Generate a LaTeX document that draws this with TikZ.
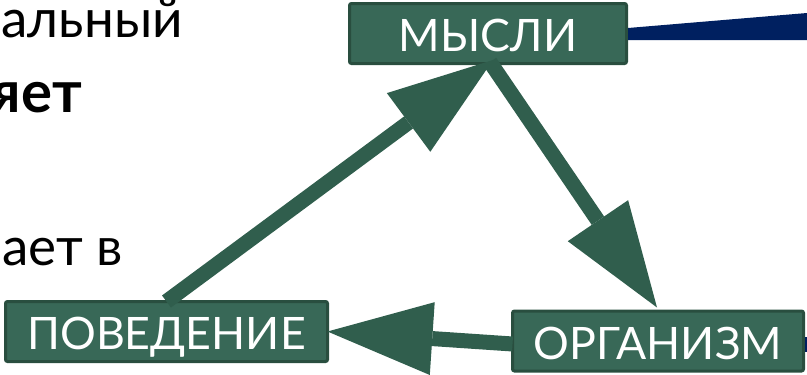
\documentclass[tikz,border=0pt]{standalone}
\usepackage{fontspec}
\setmainfont{Lato}
\usetikzlibrary{arrows.meta,calc}
\definecolor{boxfill}{RGB}{56,104,87}
\definecolor{boxline}{RGB}{41,78,63}
\definecolor{arrowgreen}{RGB}{48,94,77}
\definecolor{navyblue}{RGB}{0,32,96}
\begin{document}
\begin{tikzpicture}[x=1pt,y=-1pt,
  box/.style={draw=boxline, line width=3pt, fill=boxfill, rounded corners=2pt,
    text=white, font=\fontsize{44.7}{50}\selectfont, inner sep=0pt, outer sep=0pt,
    minimum height=60pt, text height=36pt, text depth=0pt},
  flow/.style={draw=arrowgreen, line width=15pt,
    -{Triangle[length=105pt,width=73pt,line width=0pt]}},
  slidetext/.style={anchor=base east, inner sep=0pt, font=\fontsize{53}{60}\selectfont}]
\useasboundingbox (0,0) rectangle (807,375);
\clip (0,0) rectangle (807,375);
% slide text fragments
\node[slidetext] (t1) at (183,37) {альный};
\node[slidetext, font=\fontsize{58}{64}\selectfont\bfseries] (t2) at (82,112) {яет};
\node[slidetext] (t3) at (123,265) {ает в};
% boxes
\node[box, minimum width=277pt] (mysl) at (488,33.5) {МЫСЛИ};
\node[box, minimum width=322pt] (pov) at (166.5,331.5) {ПОВЕДЕНИЕ};
\node[box, minimum width=291pt] (org) at (658,341) {ОРГАНИЗМ};
% navy connectors to the right
\fill[navyblue] ($(mysl.east)+(1.5,-5.5)$) -- (807,13) -- (807,40) -- ($(mysl.east)+(1.5,6.5)$) -- cycle;
\fill[navyblue] ($(org.east)+(1.5,-4)$) rectangle ($(org.east)+(4,11)$);
% arrows
\draw[flow] (pov.north) -- ($(mysl.south)+(5,-3.5)$);
\draw[flow] ($(mysl.south)+(2,-1.5)$) -- ($(org.north)+(-1,-3.5)$);
\draw[flow] ($(org.west)+(0,3)$) -- (pov.east);
\end{tikzpicture}
\end{document}
